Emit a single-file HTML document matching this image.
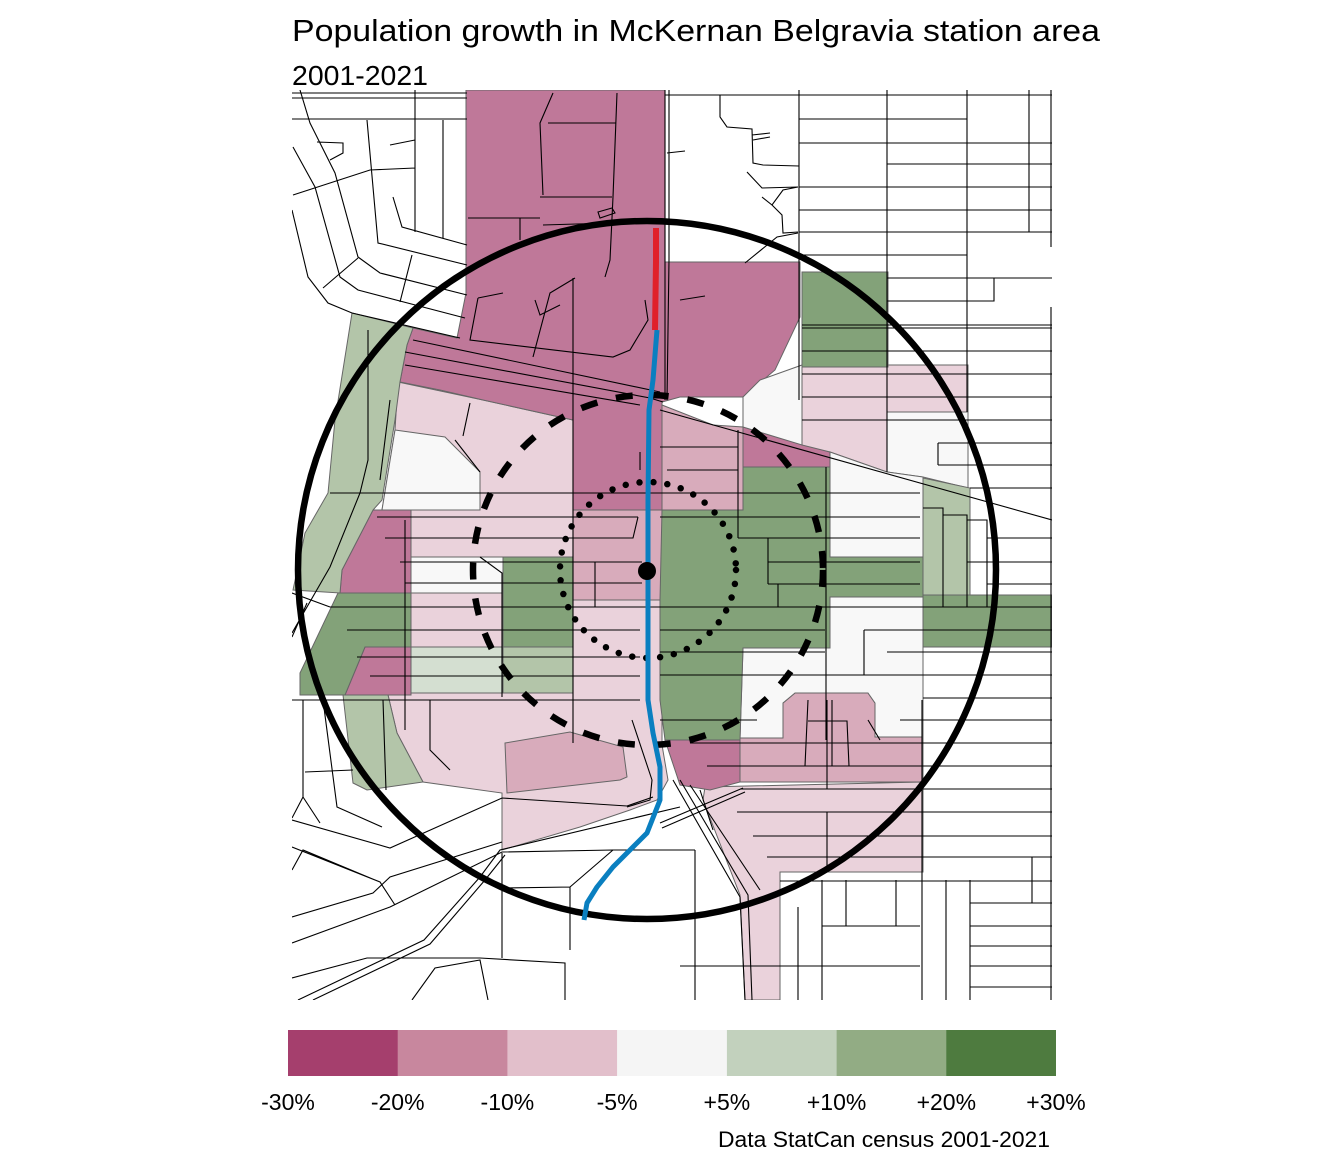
<!DOCTYPE html>
<html><head><meta charset="utf-8"><style>
html,body{margin:0;padding:0;background:#fff;}
svg{display:block;}
text{font-family:"Liberation Sans",Arial,sans-serif;fill:#000;}
</style></head><body>
<svg width="1344" height="1152" viewBox="0 0 1344 1152" xmlns="http://www.w3.org/2000/svg">
<rect x="0" y="0" width="1344" height="1152" fill="#fff"/>
<text x="292" y="41" font-size="31" textLength="808" lengthAdjust="spacingAndGlyphs">Population growth in McKernan Belgravia station area</text>
<text x="292" y="85" font-size="28" textLength="136" lengthAdjust="spacingAndGlyphs">2001-2021</text>
<defs><clipPath id="m"><rect x="292" y="90" width="760" height="910"/></clipPath></defs>
<g clip-path="url(#m)">
<g stroke="#666" stroke-width="1">
<polygon fill="#EAD2DB" points="398,382 483,400 573,420 662,420 662,745 668,780 657,800 630,810 580,827 502,850 502,793 423,782 397,733 388,695 390,510 382,510 395,430"/>
<polygon fill="#BF7899" points="466,90 665,90 665,262 800,262 800,317 775,370 743,397 680,397 662,402 662,510 573,510 573,420 483,400 440,390 400,382 407,345 413,328 457,338 466,293"/>
<polygon fill="#BF7899" points="743,427 830,452 830,467 743,467"/>
<polygon fill="#BF7899" points="373,510 411,510 411,593 340,593 342,570"/>
<polygon fill="#D8ABBB" points="662,405 713,425 743,427 743,510 662,510"/>
<polygon fill="#D8ABBB" points="573,510 662,510 662,600 573,600"/>
<polygon fill="#D8ABBB" points="505,743 570,732 623,747 627,777 620,780 507,793"/>
<polygon fill="#D8ABBB" points="740,738 783,738 783,703 795,693 868,693 875,703 875,737 923,737 923,782 740,782"/>
<polygon fill="#EAD2DB" points="802,365 968,365 968,412 887,412 887,472 830,452 802,445"/>
<polygon fill="#EAD2DB" points="705,787 923,782 923,872 780,872 780,1000 745,1000 740,895 703,800"/>
<polygon fill="#F8F8F8" points="395,430 445,437 480,472 480,510 382,510"/>
<polygon fill="#F8F8F8" points="411,557 503,557 503,593 411,593"/>
<polygon fill="#F8F8F8" points="760,380 802,365 802,445 743,427 743,397"/>
<polygon fill="#F8F8F8" points="887,412 968,412 968,488 923,477 887,472"/>
<polygon fill="#F8F8F8" points="830,452 887,472 923,477 923,557 830,557"/>
<polygon fill="#F8F8F8" points="830,597 923,597 923,737 875,737 875,703 868,693 795,693 783,703 783,738 740,738 743,648 830,648"/>
<polygon fill="#BF7899" points="365,647 411,647 411,695 345,695"/>
<polygon fill="#BF7899" points="665,740 740,740 740,782 710,790 680,785"/>
<polygon fill="#D4DFD1" points="411,647 503,647 503,693 411,693"/>
<polygon fill="#B3C5A9" points="352,313 413,328 407,345 400,382 395,420 382,500 373,510 342,570 340,593 293,590 305,533 328,493 335,420"/>
<polygon fill="#B3C5A9" points="343,695 388,695 397,733 423,782 367,790 353,783"/>
<polygon fill="#B3C5A9" points="503,647 573,647 573,693 503,693"/>
<polygon fill="#B3C5A9" points="923,478 970,488 970,597 923,597"/>
<polygon fill="#83A279" points="338,593 411,593 411,647 365,647 345,695 300,695 300,673"/>
<polygon fill="#83A279" points="503,557 573,557 573,647 503,647"/>
<polygon fill="#83A279" points="662,510 743,510 743,467 830,467 830,557 923,557 923,597 830,597 830,648 743,648 740,740 665,740 660,700 660,600"/>
<polygon fill="#83A279" points="923,595 1052,595 1052,647 923,647"/>
<polygon fill="#83A279" points="802,272 888,272 888,367 802,367"/>
</g>
<g fill="none" stroke="#000" stroke-width="1.1">
<path d="M292,93 L467,93 M292,98 L467,98 M292,119 L467,119 M415,90 L415,232 M443,120 L443,238 M367,120 L378,243 L467,265 M300,90 L310,123 L335,173 L358,257 L380,273 L467,295 M293,147 L315,187 L340,277 L358,290 L465,318 M293,195 L370,170 L415,168 M292,210 L308,277 L328,303 L352,313 L460,338 M393,197 L402,227 L467,245 M390,145 L415,140 M317,142 L343,143 L343,153 L330,160 M358,258 L323,288 M412,255 L400,302"/>
<path d="M553,93 L540,123 L543,195 M548,123 L616,123 M617,93 L613,197 L610,260 L605,277 M540,197 L612,197 M468,218 L540,218 M520,218 L520,240 M543,225 L610,223 M575,278 L550,293 L533,357 M573,278 L573,743 M478,298 L503,293 M478,298 L470,340 L613,357 L630,350 L648,320 L645,300 M598,212 L612,208 L615,213 L600,218 Z M535,300 L540,315 L560,305"/>
<path d="M405,352 L650,398 L663,402 M405,365 L640,405 M413,340 L660,392 M660,410 L1052,520 M665,90 L665,400 M669,90 L669,260 L667,400"/>
<path d="M665,95 L1052,95 M720,95 L720,117 L727,127 L752,129 L753,163 L763,165 L799,166 M752,135 L770,133 M753,140 L770,137 M747,172 L762,188 L798,187 M762,197 L772,205 L783,190 L798,187 M772,205 L782,215 L783,233 L798,232 M745,263 L777,237 L798,233 M667,153 L685,151 M680,300 L705,296"/>
<path d="M799,90 L799,400 M887,90 L887,472 M967,90 L967,412 M1029,90 L1029,232 M1051,90 L1051,247 M1051,307 L1051,1000 M799,119 L967,119 M799,143 L1052,143 M887,164 L1052,164 M799,187 L1052,187 M799,210 L1052,210 M799,232 L1052,232 M799,255 L967,255 M887,278 L1052,278 M887,301 L994,301 L994,278 M802,325 L1052,325 M802,328 L1052,328 M802,351 L1052,351 M802,374 L1052,374 M802,397 L1052,397 M802,420 L1052,420 M938,443 L1052,443 M938,465 L1052,465 M938,443 L938,465 M970,488 L1052,488 M987,538 L1052,538 M967,562 L1052,562 M987,584 L1052,584 M923,508 L943,508 L943,607 M943,515 L967,515 L967,607 M967,520 L987,520 L987,607"/>
<path d="M660,447 L738,447 M667,470 L738,470 M738,430 L738,538 M738,538 L920,538 M768,538 L768,584 M778,584 L778,607 M826,467 L826,740 M864,630 L864,675 M827,700 L827,789 M827,812 L827,872"/>
<path d="M330,493 L920,493 M377,517 L638,517 M660,517 L920,517 M385,538 L633,538 L638,517 M400,562 L642,562 M768,562 L920,562 M405,583 L642,583 M768,584 L920,584 M330,607 L1052,607 M347,630 L640,630 M660,630 L825,630 M864,630 L1052,630 M357,657 L640,657 M660,652 L825,652 M887,652 L1052,652 M370,676 L640,676 M660,675 L1052,675 M292,700 L640,700 M923,698 L1052,698 M660,720 L757,720 M900,720 L1052,720 M690,743 L1052,743 M707,766 L1052,766 M740,789 L1052,789 M737,812 L1052,812 M753,836 L1052,836 M767,857 L1052,857 M780,881 L1052,881 M970,903 L1052,903 M822,926 L920,926 M970,926 L1052,926 M970,946 L1052,946 M680,966 L920,966 M970,966 L1052,966 M970,987 L1052,987"/>
<path d="M822,880 L822,1000 M846,880 L846,926 M896,880 L896,926 M922,700 L922,1000 M946,880 L946,1000 M970,880 L970,1000 M1032,857 L1032,903 M798,907 L798,1000 M695,850 L695,1000 M660,850 L695,850 M808,700 L805,766 M808,721 L847,721 L849,766 M832,700 L832,766 M868,720 L880,740"/>
<path d="M405,520 L405,730 M480,557 L502,573 L502,697 M595,562 L595,607 M368,330 L368,460 L360,493 L330,567 L292,633 M292,593 L330,607 M292,637 L307,603 M390,400 L380,480 M430,700 L430,750 L450,770 M632,720 L652,780 L650,800 L627,807 M383,700 L386,790 M470,403 L463,436 M455,440 L480,472 M640,452 L640,470"/>
<path d="M382,827 L337,807 L323,700 M292,820 L390,848 L502,798 L627,806 L653,797 M292,847 L380,882 L395,905 M292,917 L373,893 L390,877 L502,842 M292,943 L390,907 L502,852 L613,850 L680,850 M292,978 L367,958 L480,958 L565,963 L565,1000 M298,1000 L424,940 L480,877 L500,850 L680,807 M313,1000 L430,944 L485,880 L505,855 M502,853 L502,958 M570,887 L570,950 M502,888 L570,887 L613,850 M412,1000 L435,968 L480,960 L488,1000 M303,700 L303,797 L320,823 M292,818 L303,797 M305,772 L353,770 M292,870 L303,850 L375,880 M660,823 L743,788 M662,828 L745,792 M673,780 L740,897 L745,1000 M680,780 L748,895 L752,1000 M690,785 L760,890 M700,790 L713,830"/>
</g>
</g>
<circle cx="647" cy="570" r="349" fill="none" stroke="#000" stroke-width="6.5"/>
<circle cx="648" cy="570" r="175" fill="none" stroke="#000" stroke-width="6.5" stroke-dasharray="17 19"/>
<circle cx="648" cy="570" r="88" fill="none" stroke="#000" stroke-width="6.5" stroke-linecap="round" stroke-dasharray="0 14"/>
<polyline fill="none" stroke="#0A7FC0" stroke-width="5" stroke-linejoin="round" points="657,330 653,380 649,410 648,500 648,700 653,733 660,767 660,800 647,833 613,867 597,887 587,903 584,920"/>
<polyline fill="none" stroke="#E0202A" stroke-width="6" points="656,228 656,262 655,330"/>
<circle cx="647" cy="571" r="9" fill="#000"/>
<rect x="288" y="1030" width="110" height="46" fill="#A53F6D"/>
<rect x="397.7" y="1030" width="110" height="46" fill="#C8879E"/>
<rect x="507.4" y="1030" width="110" height="46" fill="#E2BFCB"/>
<rect x="617.1" y="1030" width="110" height="46" fill="#F5F5F5"/>
<rect x="726.9" y="1030" width="110" height="46" fill="#C2D1BD"/>
<rect x="836.6" y="1030" width="110" height="46" fill="#92AC84"/>
<rect x="946.3" y="1030" width="109.7" height="46" fill="#4E7B3F"/>
<g font-size="23" text-anchor="middle">
<text x="288" y="1110">-30%</text>
<text x="397.7" y="1110">-20%</text>
<text x="507.4" y="1110">-10%</text>
<text x="617.1" y="1110">-5%</text>
<text x="726.9" y="1110">+5%</text>
<text x="836.6" y="1110">+10%</text>
<text x="946.3" y="1110">+20%</text>
<text x="1056" y="1110">+30%</text>
</g>
<text x="1050" y="1147" font-size="22" text-anchor="end" textLength="332" lengthAdjust="spacingAndGlyphs">Data StatCan census 2001-2021</text>
</svg>
</body></html>
